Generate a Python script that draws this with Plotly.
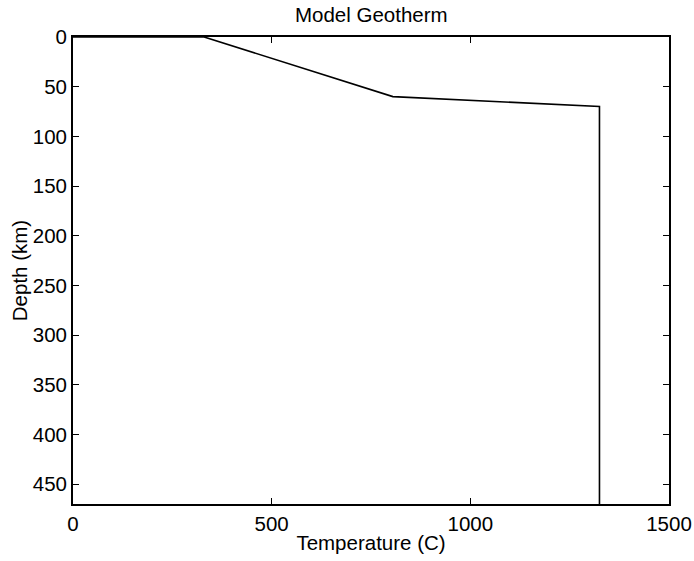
import plotly.graph_objects as go

# Geotherm profile: temperature (C) against depth (km)
temperature_c = [0, 330, 805, 1325, 1325]
depth_km = [0, 0, 60, 70, 470]

x_ticks = [0, 500, 1000, 1500]
y_ticks = [0, 50, 100, 150, 200, 250, 300, 350, 400, 450]

font_family = "Liberation Sans, Arial, Helvetica, sans-serif"
font_size = 20.5

fig = go.Figure(
    go.Scatter(
        x=temperature_c,
        y=depth_km,
        mode="lines",
        line=dict(color="black", width=1.6),
        showlegend=False,
        hoverinfo="skip",
    )
)

axis_common = dict(
    showline=True,
    linecolor="black",
    linewidth=1.8,
    mirror="ticks",
    ticks="inside",
    ticklen=6,
    tickwidth=1.3,
    tickcolor="black",
    showgrid=False,
    zeroline=False,
    automargin=False,
    tickfont=dict(family=font_family, size=font_size, color="black"),
)

fig.update_layout(
    width=694,
    height=561,
    margin=dict(l=73, r=25, t=37, b=57),
    paper_bgcolor="white",
    plot_bgcolor="white",
    font=dict(family=font_family, size=font_size, color="black"),
    title=dict(
        text="Model Geotherm",
        x=0.535,
        xanchor="center",
        y=0.973,
        yanchor="middle",
        font=dict(family=font_family, size=font_size, color="black"),
    ),
    xaxis=dict(
        range=[0, 1500],
        tickvals=x_ticks,
        ticktext=[str(v) for v in x_ticks],
        title=dict(text="Temperature (C)", standoff=2,
                   font=dict(family=font_family, size=font_size, color="black")),
        **axis_common,
    ),
    yaxis=dict(
        range=[470, 0],
        tickvals=y_ticks,
        ticktext=[str(v) for v in y_ticks],
        title=dict(text="Depth (km)", standoff=0,
                   font=dict(family=font_family, size=font_size, color="black")),
        **axis_common,
    ),
)

fig.write_html("out.html")
